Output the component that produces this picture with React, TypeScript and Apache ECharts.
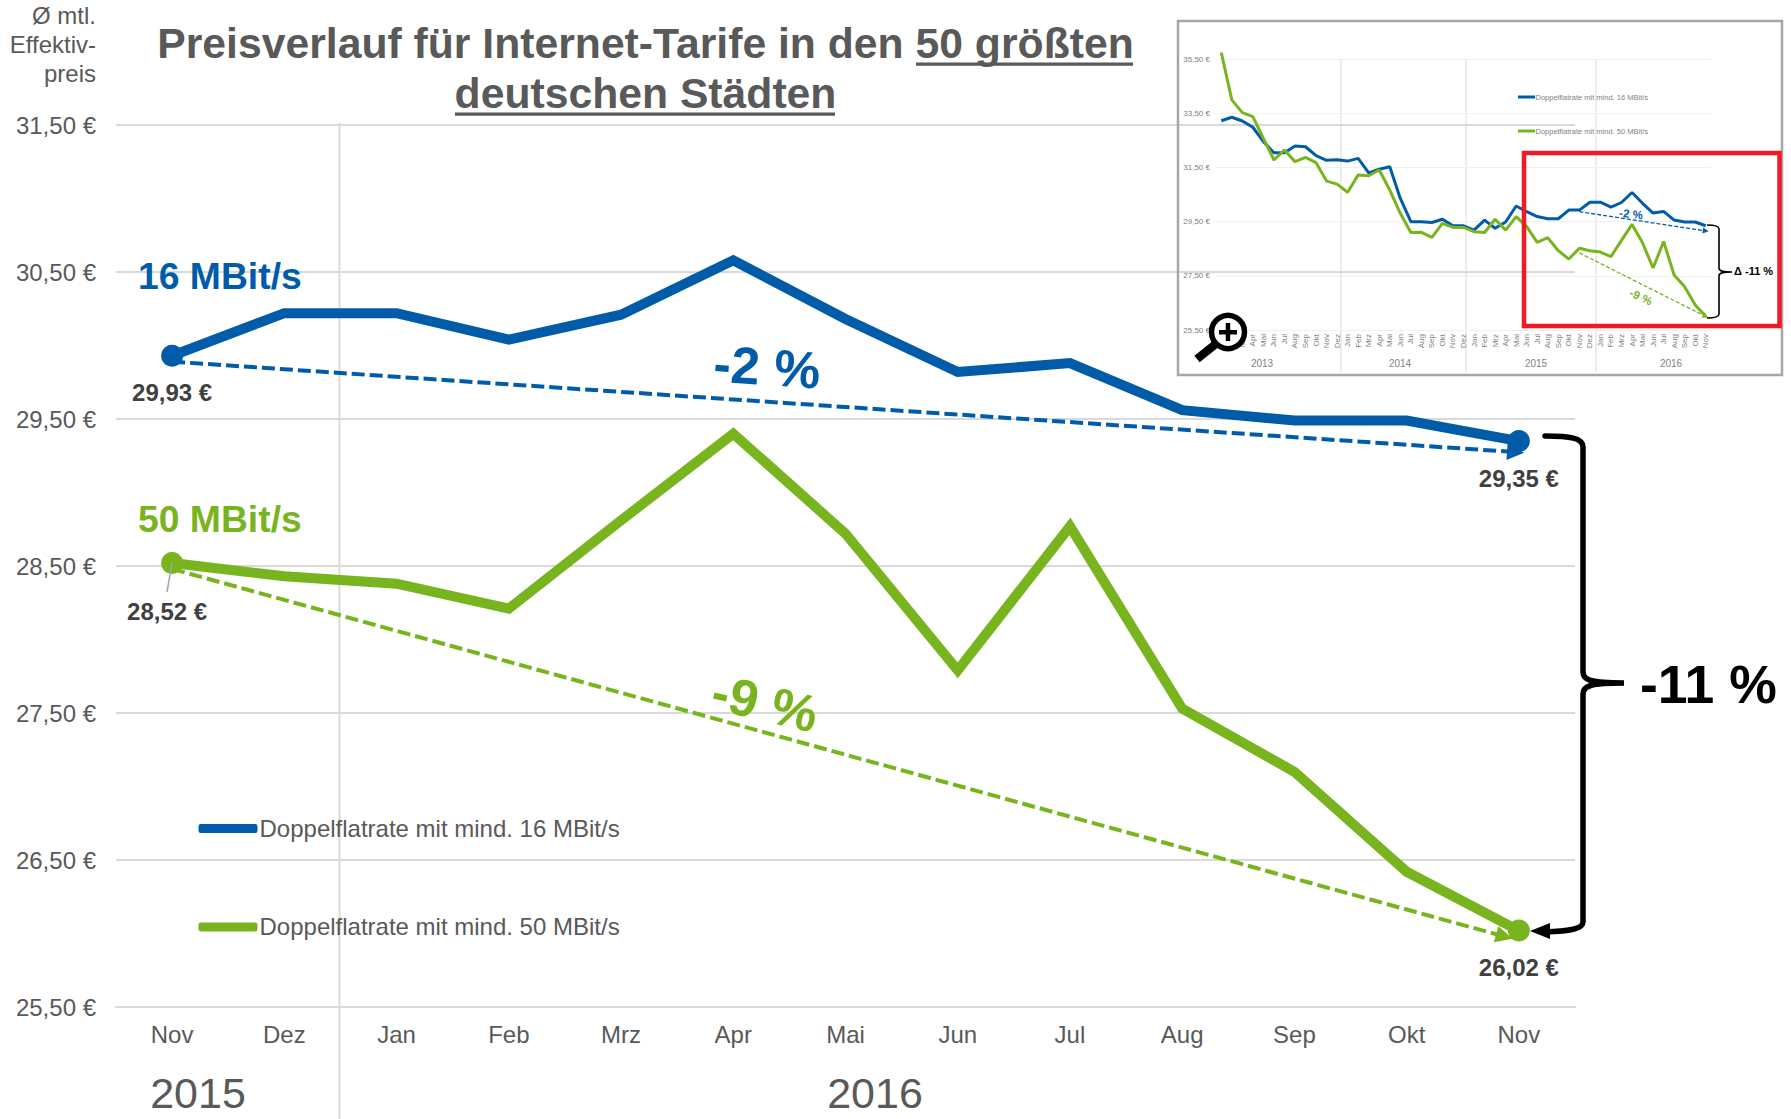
import React, { useEffect, useRef } from "react";
import * as echarts from "echarts";

const FONT = "'Liberation Sans', Arial, sans-serif";
const BLUE = "#005ca9";
const GREEN = "#78b41e";
const GREY = "#595959";
const GRID = "#d9d9d9";

const NAME_16 = "Doppelflatrate mit mind. 16 MBit/s";
const NAME_50 = "Doppelflatrate mit mind. 50 MBit/s";

const months = ["Nov", "Dez", "Jan", "Feb", "Mrz", "Apr", "Mai", "Jun", "Jul", "Aug", "Sep", "Okt", "Nov"];
const values16 = [29.93, 30.22, 30.22, 30.04, 30.21, 30.58, 30.18, 29.82, 29.88, 29.56, 29.49, 29.49, 29.35];
const values50 = [28.52, 28.43, 28.38, 28.21, 28.81, 29.4, 28.72, 27.79, 28.77, 27.53, 27.1, 26.42, 26.02];
const trend16 = [[0, 29.89], [11.97, 29.275]];
const trend50 = [[0, 28.48], [11.87, 25.98]];

const insetMonths = [
  "Jan", "Feb", "Mrz", "Apr", "Mai", "Jun", "Jul", "Aug", "Sep", "Okt", "Nov", "Dez",
  "Jan", "Feb", "Mrz", "Apr", "Mai", "Jun", "Jul", "Aug", "Sep", "Okt", "Nov", "Dez",
  "Jan", "Feb", "Mrz", "Apr", "Mai", "Jun", "Jul", "Aug", "Sep", "Okt", "Nov", "Dez",
  "Jan", "Feb", "Mrz", "Apr", "Mai", "Jun", "Jul", "Aug", "Sep", "Okt", "Nov",
];
const inset16 = [
  33.23, 33.36, 33.22, 32.99, 32.46, 32.05, 32.05, 32.3, 32.27, 31.94, 31.77, 31.79,
  31.74, 31.84, 31.3, 31.44, 31.53, 30.36, 29.5, 29.5, 29.47, 29.59, 29.35, 29.35,
  29.19, 29.56, 29.26, 29.49, 30.08, 29.87, 29.69, 29.61, 29.61, 29.93, 29.93, 30.22,
  30.22, 30.04, 30.21, 30.58, 30.18, 29.82, 29.88, 29.56, 29.49, 29.49, 29.35,
];
const inset50 = [
  35.75, 34.0, 33.53, 33.38, 32.58, 31.78, 32.15, 31.72, 31.88, 31.68, 31.0, 30.89,
  30.59, 31.23, 31.2, 31.41, 30.67, 29.81, 29.1, 29.11, 28.92, 29.44, 29.29, 29.29,
  29.13, 29.1, 29.59, 29.19, 29.69, 29.32, 28.74, 28.91, 28.43, 28.12, 28.52, 28.43,
  28.38, 28.21, 28.81, 29.4, 28.72, 27.79, 28.77, 27.53, 27.1, 26.42, 26.02,
];
const insetTrend16 = [[34, 29.87], [46, 29.16]];
const insetTrend50 = [[34, 28.35], [46, 26.0]];

const euro = (v: number) => v.toFixed(2).replace(".", ",") + " €";

echarts.graphic.registerShape(
  "braceMain",
  echarts.graphic.extendPath(
    "M1545 436 C1570 436 1583 438 1583 447 L1583 672 C1583 680 1590 683 1624 683 C1590 683 1583 686 1583 694 L1583 922 C1583 929 1570 931 1545 932",
    {}
  )
);
echarts.graphic.registerShape(
  "braceInset",
  echarts.graphic.extendPath(
    "M1707 225 C1714 225 1719 226 1719 229 L1719 268 C1719 271 1722 272 1732 272 C1722 272 1719 273 1719 276 L1719 314 C1719 317 1714 318 1707 318",
    {}
  )
);

function mainData(values: number[], labelOffsets: Record<number, number[]>) {
  return values.map((v, i) => {
    const offset = labelOffsets[i];
    if (!offset) return { value: v, symbol: "none" };
    return {
      value: v,
      symbol: "circle",
      symbolSize: 22,
      label: {
        show: true,
        position: "bottom",
        distance: 14,
        offset,
        formatter: euro(v),
        fontFamily: FONT,
        fontSize: 24,
        fontWeight: "bold",
        color: "#404040",
      },
    };
  });
}

function trendLine(points: number[][], color: string, width: number, dash: number[], arrow: number) {
  return {
    silent: true,
    symbol: ["none", "triangle"],
    symbolSize: arrow,
    label: { show: false },
    lineStyle: { color, width, type: dash, opacity: 1 },
    data: [[{ coord: points[0] }, { coord: points[1] }]],
  };
}

function text(x: number, y: number, t: string, size: number, fill: string, extra: any = {}, weight = "normal", align = "left", rotation = 0) {
  return {
    type: "text",
    x,
    y,
    rotation,
    z: 50,
    silent: true,
    style: { x: 0, y: 0, text: t, fontFamily: FONT, fontSize: size, fontWeight: weight, fill, align, verticalAlign: "middle", ...extra },
  };
}

function vline(x: number, y1: number, y2: number, stroke: string, lineWidth: number, z = 0) {
  return { type: "line", z, silent: true, shape: { x1: x, y1, x2: x, y2 }, style: { stroke, lineWidth } };
}

export default function App() {
  const ref = useRef<HTMLDivElement>(null);
  useEffect(() => {
    const chart = echarts.init(ref.current!, null, { renderer: "svg" });
    chart.setOption({
      animation: false,
      backgroundColor: "#ffffff",
      textStyle: { fontFamily: FONT },
      legend: {
        data: [NAME_16, NAME_50],
        orient: "vertical",
        left: 193.5,
        top: 809.5,
        itemWidth: 59,
        itemHeight: 9,
        itemGap: 70.4,
        icon: "roundRect",
        selectedMode: false,
        textStyle: { fontFamily: FONT, fontSize: 24, color: GREY, lineHeight: 28, padding: [0, 0, 0, -3] },
      },
      grid: [
        { left: 116, right: 216, top: 125, bottom: 112 },
        { left: 1216, right: 80, top: 59.3, bottom: 789 },
      ],
      xAxis: [
        {
          type: "category",
          gridIndex: 0,
          data: months,
          boundaryGap: true,
          axisLine: { lineStyle: { color: GRID, width: 2 } },
          axisTick: { show: false },
          axisLabel: { interval: 0, margin: 15, fontFamily: FONT, fontSize: 24, color: GREY },
          splitLine: { show: false },
        },
        {
          type: "category",
          gridIndex: 1,
          data: insetMonths,
          boundaryGap: true,
          axisLine: { show: false },
          axisTick: { show: false },
          axisLabel: { interval: 0, rotate: 90, margin: 4, fontFamily: FONT, fontSize: 8, color: "#808080" },
          splitLine: { show: false },
        },
        {
          type: "value",
          gridIndex: 0,
          min: -0.5,
          max: 12.5,
          show: false,
          splitLine: { show: false },
        },
      ],
      yAxis: [
        {
          type: "value",
          gridIndex: 0,
          min: 25.5,
          max: 31.5,
          interval: 1,
          axisLine: { show: false },
          axisTick: { show: false },
          axisLabel: { margin: 20, fontFamily: FONT, fontSize: 24, color: GREY, padding: [0, 0, 2, 0], formatter: euro },
          splitLine: { lineStyle: { color: GRID, width: 2 } },
        },
        {
          type: "value",
          gridIndex: 1,
          min: 25.5,
          max: 35.5,
          interval: 2,
          axisLine: { show: false },
          axisTick: { show: false },
          axisLabel: { margin: 6, fontFamily: FONT, fontSize: 8, color: "#808080", formatter: euro },
          splitLine: { lineStyle: { color: "#f0f0f0", width: 1 } },
        },
      ],
      series: [
        {
          name: NAME_16,
          type: "line",
          xAxisIndex: 0,
          yAxisIndex: 0,
          z: 5,
          showAllSymbol: true,
          data: mainData(values16, { 0: [0, 0], 12: [0, 0] }),
          itemStyle: { color: BLUE },
          lineStyle: { color: BLUE, width: 10, join: "miter" },
        },
        {
          name: NAME_50,
          type: "line",
          xAxisIndex: 0,
          yAxisIndex: 0,
          z: 5,
          showAllSymbol: true,
          data: mainData(values50, { 0: [-5, 11], 12: [0, 0] }),
          itemStyle: { color: GREEN },
          lineStyle: { color: GREEN, width: 10, join: "miter" },
        },
        {
          name: "Trend 16 MBit/s",
          type: "line",
          xAxisIndex: 2,
          yAxisIndex: 0,
          z: 6,
          symbol: "none",
          data: trend16,
          itemStyle: { color: BLUE },
          lineStyle: { width: 0, opacity: 0 },
          markLine: trendLine(trend16, BLUE, 4, [13, 5], 17),
        },
        {
          name: "Trend 50 MBit/s",
          type: "line",
          xAxisIndex: 2,
          yAxisIndex: 0,
          z: 6,
          symbol: "none",
          data: trend50,
          itemStyle: { color: GREEN },
          lineStyle: { width: 0, opacity: 0 },
          markLine: trendLine(trend50, GREEN, 4, [13, 5], 17),
        },
        {
          name: "Übersicht 16 MBit/s",
          type: "line",
          xAxisIndex: 1,
          yAxisIndex: 1,
          symbol: "none",
          clip: false,
          data: inset16,
          itemStyle: { color: BLUE },
          lineStyle: { color: BLUE, width: 3 },
          markLine: trendLine(insetTrend16, BLUE, 1.3, [4, 2], 6),
        },
        {
          name: "Übersicht 50 MBit/s",
          type: "line",
          xAxisIndex: 1,
          yAxisIndex: 1,
          symbol: "none",
          clip: false,
          data: inset50,
          itemStyle: { color: GREEN },
          lineStyle: { color: GREEN, width: 3 },
          markLine: trendLine(insetTrend50, GREEN, 1.3, [4, 2], 6),
        },
      ],
      graphic: [
        vline(339.5, 123, 1119, GRID, 2),
        vline(1341, 59, 372, GRID, 1),
        vline(1466, 59, 372, GRID, 1),
        vline(1596, 59, 372, GRID, 1),
        // title
        text(645.5, 43, "Preisverlauf für Internet-Tarife in den 50 größten", 42.7, GREY, {}, "bold", "center"),
        text(645.5, 93, "deutschen Städten", 42.7, GREY, {}, "bold", "center"),
        { type: "rect", z: 50, silent: true, shape: { x: 916, y: 62.5, width: 217, height: 3.2 }, style: { fill: GREY } },
        { type: "rect", z: 50, silent: true, shape: { x: 455, y: 112.5, width: 380, height: 3.2 }, style: { fill: GREY } },
        // axis title
        text(96, 15, "Ø mtl.", 24, GREY, {}, "normal", "right"),
        text(96, 44, "Effektiv-", 24, GREY, {}, "normal", "right"),
        text(96, 73, "preis", 24, GREY, {}, "normal", "right"),
        // years
        text(198, 1093, "2015", 43, GREY, {}, "normal", "center"),
        text(875, 1093, "2016", 43, GREY, {}, "normal", "center"),
        // series names
        text(138, 276, "16 MBit/s", 37.3, BLUE, {}, "bold"),
        text(138, 519, "50 MBit/s", 37.3, GREEN, {}, "bold"),
        // changes
        text(767, 367, "-2 %", 52, BLUE, {}, "bold", "center", -0.07),
        text(765, 703, "-9 %", 52, GREEN, {}, "bold", "center", -0.23),
        text(1640, 684, "-11 %", 53.5, "#000000", {}, "bold"),
        { type: "braceMain", z: 40, silent: true, x: 0, y: 0, style: { fill: "none", stroke: "#000000", lineWidth: 5.5, lineCap: "round" } },
        { type: "polygon", z: 40, silent: true, shape: { points: [[1530, 931], [1550, 923], [1550, 939]] }, style: { fill: "#000000" } },
        // leader
        { type: "line", z: 50, silent: true, shape: { x1: 172, y1: 563, x2: 167, y2: 592 }, style: { stroke: "#a6a6a6", lineWidth: 1.5 } },
        // inset
        { type: "rect", z: 45, silent: true, shape: { x: 1178, y: 21, width: 604, height: 354 }, style: { fill: "none", stroke: "#a6a6a6", lineWidth: 2.5 } },
        { type: "rect", z: 45, silent: true, shape: { x: 1524, y: 153, width: 255.5, height: 173 }, style: { fill: "none", stroke: "#ed1c24", lineWidth: 4.5 } },
        { type: "line", z: 40, silent: true, shape: { x1: 1518, y1: 97, x2: 1535, y2: 97 }, style: { stroke: BLUE, lineWidth: 3 } },
        { type: "line", z: 40, silent: true, shape: { x1: 1518, y1: 131, x2: 1535, y2: 131 }, style: { stroke: GREEN, lineWidth: 3 } },
        text(1535.5, 97, NAME_16, 7.5, "#7f7f7f"),
        text(1535.5, 131, NAME_50, 7.5, "#7f7f7f"),
        text(1262, 363, "2013", 10, "#7f7f7f", {}, "normal", "center"),
        text(1400, 363, "2014", 10, "#7f7f7f", {}, "normal", "center"),
        text(1536, 363, "2015", 10, "#7f7f7f", {}, "normal", "center"),
        text(1671, 363, "2016", 10, "#7f7f7f", {}, "normal", "center"),
        text(1631, 214, "-2 %", 11.5, BLUE, {}, "bold", "center", -0.1),
        text(1641, 297, "-9 %", 11.5, GREEN, {}, "bold", "center", -0.45),
        { type: "braceInset", z: 40, silent: true, x: 0, y: 0, style: { fill: "none", stroke: "#000000", lineWidth: 1.6 } },
        text(1734, 271, "Δ -11 %", 11, "#000000", {}, "bold"),
        // magnifier
        { type: "line", z: 60, silent: true, shape: { x1: 1217, y1: 343, x2: 1197, y2: 359 }, style: { stroke: "#000000", lineWidth: 8.5 } },
        { type: "circle", z: 61, silent: true, shape: { cx: 1228, cy: 332, r: 16.5 }, style: { fill: "#ffffff", stroke: "#000000", lineWidth: 5.5 } },
        { type: "rect", z: 62, silent: true, shape: { x: 1219, y: 330, width: 18, height: 4.5 }, style: { fill: "#000000" } },
        { type: "rect", z: 62, silent: true, shape: { x: 1225.7, y: 323, width: 4.5, height: 18 }, style: { fill: "#000000" } },
      ],
    });
    return () => chart.dispose();
  }, []);
  return <div ref={ref} style={{ position: "fixed", left: 0, top: 0, width: 1791, height: 1119 }} />;
}
